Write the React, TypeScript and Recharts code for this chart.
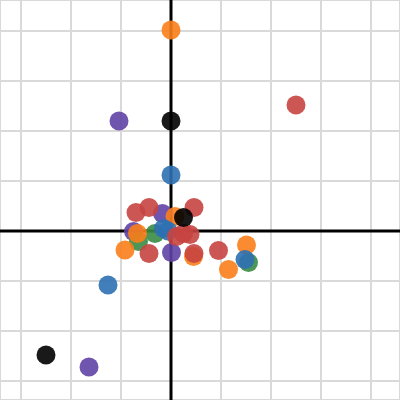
import React from 'react';
import { ScatterChart, Scatter, XAxis, YAxis, CartesianGrid, ReferenceLine } from 'recharts';

const xTicks = [-3, -2, -1, 0, 1, 2, 3, 4];
const yTicks = [-3, -2, -1, 0, 1, 2, 3, 4];

const purplePts = [
  { x: -1.04, y: 2.2 },
  { x: -1.64, y: -2.72 },
  { x: -0.17, y: 0.35 },
  { x: -0.75, y: -0.01 },
  { x: 0.01, y: -0.43 },
];
const greenPts = [
  { x: -0.65, y: -0.21 },
  { x: -0.32, y: -0.05 },
  { x: 1.55, y: -0.63 },
];
const orangePts = [
  { x: 0, y: 4.02 },
  { x: 0.08, y: 0.29 },
  { x: -0.67, y: -0.05 },
  { x: -0.92, y: -0.38 },
  { x: 0.45, y: -0.51 },
  { x: 1.51, y: -0.28 },
  { x: 1.15, y: -0.77 },
];
const bluePts = [
  { x: 0, y: 1.12 },
  { x: -1.26, y: -1.08 },
  { x: -0.15, y: 0.05 },
  { x: -0.06, y: 0.0 },
  { x: 1.48, y: -0.57 },
];
const redPts = [
  { x: 2.5, y: 2.52 },
  { x: -0.7, y: 0.37 },
  { x: -0.44, y: 0.47 },
  { x: 0.46, y: 0.47 },
  { x: 0.11, y: -0.11 },
  { x: 0.25, y: -0.05 },
  { x: 0.38, y: -0.07 },
  { x: -0.44, y: -0.45 },
  { x: 0.46, y: -0.45 },
  { x: 0.95, y: -0.39 },
];
const blackPts = [
  { x: 0, y: 2.2 },
  { x: -2.5, y: -2.48 },
  { x: 0.25, y: 0.27 },
];

const series = [
  { name: 'purple', data: purplePts, color: '#6042a6' },
  { name: 'green', data: greenPts, color: '#388c46' },
  { name: 'orange', data: orangePts, color: '#fa7e19' },
  { name: 'blue', data: bluePts, color: '#2d70b3' },
  { name: 'red', data: redPts, color: '#c74440' },
  { name: 'black', data: blackPts, color: '#000000' },
];

const makeShape = (color: string) => (props: any) => (
  <circle cx={props.cx} cy={props.cy} r={9.5} fill={color} fillOpacity={0.9} />
);

export default function App() {
  return (
    <div style={{ position: 'absolute', left: 0, top: 0 }}>
      <ScatterChart width={400} height={400} margin={{ top: 0, right: 0, bottom: 0, left: 0 }}>
        <CartesianGrid stroke="#d9d9d9" strokeWidth={2} />
        <XAxis type="number" dataKey="x" domain={[-3.42, 4.58]} ticks={xTicks} hide allowDataOverflow />
        <YAxis type="number" dataKey="y" domain={[-3.38, 4.62]} ticks={yTicks} hide allowDataOverflow />
        <ReferenceLine x={0} stroke="#000" strokeWidth={3} />
        <ReferenceLine y={0} stroke="#000" strokeWidth={3} />
        {series.map((s) => (
          <Scatter key={s.name} data={s.data} shape={makeShape(s.color)} isAnimationActive={false} />
        ))}
      </ScatterChart>
    </div>
  );
}
